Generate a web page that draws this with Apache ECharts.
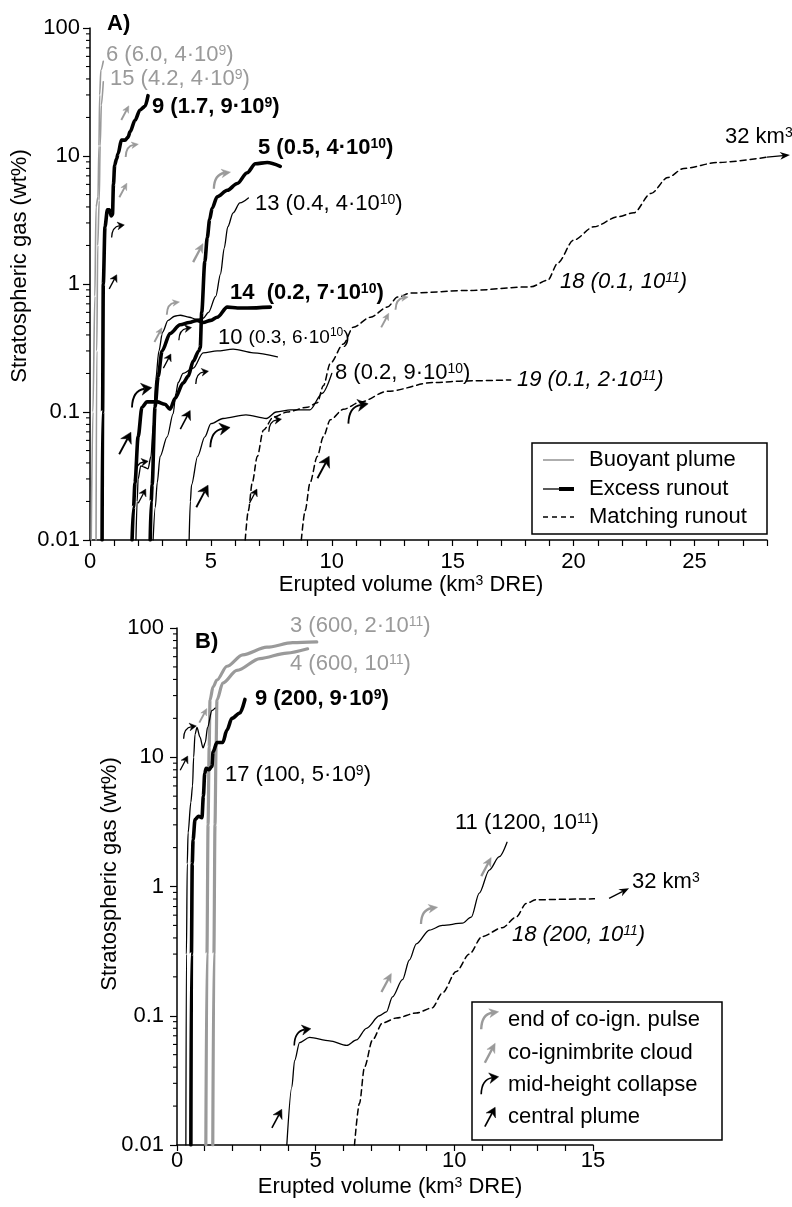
<!DOCTYPE html>
<html><head><meta charset="utf-8">
<script src="https://cdn.jsdelivr.net/npm/echarts@6/dist/echarts.min.js"></script>
<style>html,body{margin:0;padding:0;background:#fff}#c{width:792px;height:1207px}</style>
</head><body><div id="c"></div>
<script>
// ---------- tick labels ----------
const xTickLabelsA = ['0','5','10','15','20','25'];
const xTickLabelsB = ['0','5','10','15'];
const yTickLabels = ['0.01','0.1','1','10','100'];
const yMinorMult = [2,3,4,5,6,7,8,9];
const yDecades = [0.01,0.1,1,10];

// ---------- panel A curves: [erupted volume km3, stratospheric gas wt%] ----------
const c6A = [[0.05,0.01],[0.12,0.1],[0.2,0.8],[0.25,4],[0.33,4.8],[0.37,12],[0.4,30],[0.45,47],[0.55,55]];
const c15A = [[0.25,0.01],[0.28,0.3],[0.32,2],[0.38,4.5],[0.42,12],[0.47,25],[0.55,38]];
const c9A = [[0.5,0.01],[0.52,0.1],[0.55,1],[0.62,2.8],[0.72,3.8],[0.8,3.8],[0.88,3.4],[0.93,3.5],[0.97,6],[1.02,8.5],[1.1,9.5],[1.16,10.4],[1.3,13.3],[1.45,13.3],[1.57,14],[1.66,15.5],[1.86,19],[2.07,22.9],[2.28,24.5],[2.4,29.6]];
const c5A = [[1.74,0.01],[1.8,0.018],[1.86,0.028],[1.99,0.064],[2.15,0.109],[2.36,0.12],[2.78,0.12],[3.1,0.115],[3.31,0.105],[3.52,0.128],[3.85,0.168],[4.06,0.19],[4.27,0.25],[4.5,0.3],[4.56,0.32],[4.62,0.6],[4.75,1.5],[4.85,2.3],[4.95,3.2],[5.05,3.9],[5.26,4.8],[5.68,5.4],[6.09,6.1],[6.5,7.4],[6.84,8.7],[7.33,8.9],[7.87,8.3]];
const c14A = [[2.49,0.01],[2.53,0.02],[2.57,0.027],[2.69,0.109],[2.82,0.19],[2.98,0.3],[3.31,0.41],[3.73,0.48],[4.1,0.5],[4.43,0.52],[4.68,0.5],[5.0,0.52],[5.26,0.55],[5.68,0.66],[6.1,0.65],[6.5,0.65],[7.46,0.66]];
const c13A = [[1.9,0.01],[1.95,0.02],[1.99,0.03],[2.1,0.038],[2.25,0.037],[2.4,0.036],[2.52,0.045],[2.62,0.08],[2.72,0.18],[2.85,0.3],[3.0,0.42],[3.23,0.52],[3.5,0.56],[3.73,0.57],[4.1,0.55],[4.4,0.53],[4.68,0.54],[4.9,0.6],[5.2,0.8],[5.4,1.2],[5.55,1.9],[5.7,2.8],[5.92,3.6],[6.2,4.3],[6.55,4.7]];
const c10A = [[2.61,0.01],[2.7,0.018],[2.78,0.028],[2.9,0.045],[3.19,0.064],[3.44,0.097],[3.55,0.14],[3.65,0.17],[3.85,0.2],[4.27,0.22],[4.68,0.29],[5.26,0.3],[5.92,0.31],[6.75,0.29],[7.75,0.27]];
const c8A = [[4.1,0.01],[4.15,0.02],[4.2,0.027],[4.45,0.045],[4.75,0.064],[5.0,0.081],[5.5,0.089],[6.45,0.095],[7.3,0.089],[7.7,0.1],[8.3,0.104],[9.1,0.104],[9.6,0.14],[10.0,0.2]];
const c18A = [[6.42,0.01],[6.55,0.017],[6.71,0.028],[6.92,0.045],[7.17,0.072],[7.58,0.091],[8.16,0.1],[8.99,0.109],[9.4,0.118],[9.65,0.16],[9.94,0.24],[10.48,0.34],[10.89,0.46],[11.6,0.55],[12.3,0.66],[12.72,0.79],[13.26,0.85],[15.62,0.89],[18.23,0.95],[18.93,1.07],[19.35,1.46],[20.0,2.2],[20.84,2.8],[21.83,3.35],[22.49,3.6],[23.2,5.1],[23.9,6.8],[24.56,8.0],[25.97,8.9],[28.0,9.8]];
const c19A = [[8.74,0.01],[8.9,0.017],[9.1,0.028],[9.4,0.045],[9.65,0.064],[9.94,0.087],[10.48,0.105],[11.2,0.12],[12.3,0.145],[14.2,0.17],[15.6,0.175],[17.4,0.178]];
const endArrowA = [[28.0,9.8,28.95,10.2]];

// ---------- panel B curves ----------
const c3B = [[1.04,0.01],[1.08,0.3],[1.12,3],[1.16,12],[1.19,27.7],[1.3,35],[1.44,39.6],[1.8,50.6],[2.37,62],[3.24,71],[4.17,77],[5.04,78]];
const c4B = [[1.29,0.01],[1.33,0.3],[1.37,3],[1.41,12],[1.44,27.7],[1.65,37.5],[2.16,47],[2.99,58],[3.96,64],[4.71,69]];
const c9B = [[0.5,0.01],[0.52,0.3],[0.55,1.5],[0.58,2.3],[0.65,3.3],[0.78,3.5],[0.9,3.4],[0.95,5],[1.0,7.5],[1.05,8.2],[1.15,8.0],[1.26,8.5],[1.3,11],[1.44,13],[1.65,13],[1.8,16.2],[1.98,20],[2.27,22],[2.45,28]];
const c17B = [[0.32,0.01],[0.34,0.3],[0.37,1.5],[0.4,2.6],[0.5,4.5],[0.56,6],[0.6,10],[0.65,15],[0.72,17],[0.83,14.3],[0.94,11.8],[1.02,13],[1.1,17],[1.26,23],[1.37,24]];
const c11B = [[3.96,0.01],[4.14,0.028],[4.24,0.045],[4.42,0.062],[4.78,0.068],[5.5,0.064],[6.12,0.059],[6.47,0.065],[6.83,0.08],[7.3,0.1],[7.55,0.107],[7.77,0.14],[8.13,0.19],[8.38,0.27],[8.63,0.36],[9.1,0.46],[9.57,0.5],[10.29,0.52],[10.61,0.58],[10.9,0.89],[11.26,1.34],[11.62,1.7],[11.9,2.2]];
const c18B = [[6.4,0.01],[6.58,0.021],[6.76,0.04],[7.05,0.065],[7.41,0.088],[7.91,0.096],[8.63,0.105],[9.2,0.115],[9.57,0.15],[10.07,0.22],[10.54,0.3],[11.0,0.41],[11.73,0.48],[12.23,0.58],[12.59,0.74],[12.95,0.79],[14.6,0.8],[15.58,0.81]];
const endArrowB = [[15.58,0.81,16.3,0.97]];

// ---------- arrow annotations: [x, y, kind, size class] ----------
const arrowsA = [
  [1.45,21.7,'coign','s'],[1.74,11.1,'pulse','s'],[1.37,5.4,'coign','s'],[1.16,2.6,'collapse','s'],[0.95,1.04,'central','s'],
  [5.47,6.5,'pulse','m'],[4.47,1.75,'coign','m'],[3.44,0.65,'pulse','s'],[2.82,0.40,'coign','s'],[3.94,0.41,'collapse','s'],[3.19,0.25,'central','s'],
  [2.15,0.131,'collapse','l'],[1.45,0.057,'central','l'],[2.15,0.037,'collapse','s'],[2.15,0.022,'central','s'],
  [4.64,0.187,'collapse','s'],[3.94,0.087,'central','m'],[5.39,0.064,'collapse','l'],[4.64,0.022,'central','l'],
  [7.66,0.079,'collapse','s'],[6.75,0.022,'central','s'],[11.1,0.098,'collapse','l'],[9.65,0.037,'central','l'],
  [12.2,0.52,'coign','s'],[12.9,0.71,'pulse','s']
];
const arrowsB = [
  [0.47,15.7,'collapse','s'],[0.25,9.0,'central','s'],[0.94,21,'coign','s'],
  [11.15,1.42,'coign','m'],[9.1,0.60,'pulse','m'],[7.55,0.18,'coign','m'],[4.53,0.069,'collapse','m'],[3.6,0.016,'central','m']
];
const legendAItems = ['Buoyant plume','Excess runout','Matching runout'];
const legendBItems = [['pulse','end of co-ign. pulse'],['coign','co-ignimbrite cloud'],['collapse','mid-height collapse'],['central','central plume']];

// ---------- rendering ----------
const FONT = 'Liberation Sans';
const GREY = '#9a9a9a';
const SIZE = { s: 16, m: 21, l: 25 };

function arrowShapes(kind, cx, cy, L, z) {
  const grey = kind === 'coign' || kind === 'pulse';
  const col = grey ? GREY : '#000';
  const lw = grey ? Math.max(1.9, L * 0.11) : Math.max(1.3, L * 0.075);
  const h = L * 0.42, w = L * (grey ? 0.2 : 0.24);
  const out = [];
  let ex, ey, dx, dy;
  if (kind === 'central' || kind === 'coign') {
    const th = 62 * Math.PI / 180;
    dx = Math.cos(th); dy = -Math.sin(th);
    const tx = cx + dx * L / 2, ty = cy + dy * L / 2;
    ex = tx - dx * h * 0.7; ey = ty - dy * h * 0.7;
    out.push({ type: 'line', shape: { x1: cx - dx * L / 2, y1: cy - dy * L / 2, x2: ex, y2: ey }, style: { stroke: col, lineWidth: lw } });
  } else {
    const sx = cx - 0.4 * L, sy = cy + 0.42 * L;
    const qx = cx - 0.38 * L, qy = cy - 0.26 * L;
    ex = cx + 0.1 * L; ey = cy - 0.33 * L;
    const len = Math.hypot(ex - qx, ey - qy); dx = (ex - qx) / len; dy = (ey - qy) / len;
    out.push({ type: 'bezierCurve', shape: { x1: sx, y1: sy, cpx1: qx, cpy1: qy, x2: ex, y2: ey }, style: { stroke: col, lineWidth: lw, fill: 'none' } });
  }
  const tx = ex + dx * h * 0.7, ty = ey + dy * h * 0.7;
  const bx = tx - dx * h, by = ty - dy * h, nx = -dy, ny = dx;
  out.push({ type: 'polygon', shape: { points: [[tx, ty], [bx + nx * w, by + ny * w], [ex, ey], [bx - nx * w, by - ny * w]] }, style: { fill: col, stroke: col, lineWidth: 0.5 } });
  if (z != null) out.forEach(e => { e.z = z; });
  return out;
}

function arrowSeries(list, gi) {
  return {
    type: 'custom', xAxisIndex: gi, yAxisIndex: gi, z: 5, silent: true, clip: false,
    data: list.map(a => [a[0], a[1]]),
    renderItem: (params, api) => {
      const a = list[params.dataIndex];
      const p = api.coord([api.value(0), api.value(1)]);
      return { type: 'group', children: arrowShapes(a[2], p[0], p[1], SIZE[a[3]]) };
    }
  };
}
function endArrowSeries(list, gi) {
  return {
    type: 'custom', xAxisIndex: gi, yAxisIndex: gi, z: 5, silent: true, clip: false,
    data: list,
    renderItem: (params, api) => {
      const p1 = api.coord([api.value(0), api.value(1)]);
      const p2 = api.coord([api.value(2), api.value(3)]);
      const len = Math.hypot(p2[0] - p1[0], p2[1] - p1[1]);
      const dx = (p2[0] - p1[0]) / len, dy = (p2[1] - p1[1]) / len;
      const h = 10, w = 4, nx = -dy, ny = dx;
      const bx = p2[0] - dx * h, by = p2[1] - dy * h;
      const nxp = p2[0] - dx * h * 0.7, nyp = p2[1] - dy * h * 0.7;
      return { type: 'group', children: [
        { type: 'line', shape: { x1: p1[0], y1: p1[1], x2: nxp, y2: nyp }, style: { stroke: '#000', lineWidth: 1.3 } },
        { type: 'polygon', shape: { points: [[p2[0], p2[1]], [bx + nx * w, by + ny * w], [nxp, nyp], [bx - nx * w, by - ny * w]] }, style: { fill: '#000' } }
      ] };
    }
  };
}
function minorTickSeries(gi) {
  const vals = [];
  yDecades.forEach(d => yMinorMult.forEach(m => vals.push([0, m * d])));
  return {
    type: 'custom', xAxisIndex: gi, yAxisIndex: gi, z: 6, silent: true, clip: false,
    data: vals,
    renderItem: (params, api) => {
      const p = api.coord([0, api.value(1)]);
      return { type: 'line', shape: { x1: p[0] - 4, y1: p[1], x2: p[0], y2: p[1] }, style: { stroke: '#000', lineWidth: 1.1 } };
    }
  };
}

const STY = {
  greyThin: { color: GREY, width: 1.6 },
  greyThick: { color: GREY, width: 3.2 },
  thick: { color: '#000', width: 3.6 },
  thin: { color: '#000', width: 1.3 },
  dash: { color: '#000', width: 1.5, type: [6, 4] }
};
function lineS(name, data, gi, sty, clip) {
  return {
    name, type: 'line', xAxisIndex: gi, yAxisIndex: gi, data, showSymbol: false, symbol: 'none',
    smooth: 0.3, smoothMonotone: 'x', clip: clip !== false, silent: true, z: 3,
    lineStyle: Object.assign({ cap: 'round', join: 'round' }, sty)
  };
}

function xAxisCfg(gi, max, labels) {
  return {
    gridIndex: gi, type: 'value', min: 0, max, interval: 1,
    axisLine: { show: true, lineStyle: { color: '#000', width: 1.5 } },
    axisTick: { show: true, length: 6, lineStyle: { color: '#000', width: 1.2 } },
    axisLabel: { show: true, color: '#000', fontSize: 22, fontFamily: FONT, margin: gi === 0 ? 11 : 5,
      formatter: v => (Math.round(v) % 5 === 0 ? (labels[Math.round(v) / 5] || '') : '') },
    splitLine: { show: false }
  };
}
function yAxisCfg(gi) {
  return {
    gridIndex: gi, type: 'log', logBase: 10, min: 0.01, max: 100,
    axisLine: { show: true, lineStyle: { color: '#000', width: 1.5 } },
    axisTick: { show: true, length: 7, lineStyle: { color: '#000', width: 1.2 } },
    axisLabel: { show: true, color: '#000', fontSize: 22, fontFamily: FONT, margin: gi === 0 ? 10 : 13,
      formatter: v => yTickLabels[Math.round(Math.log10(v)) + 2] || '' },
    splitLine: { show: false }, minorTick: { show: false }
  };
}

function txt(x, y, text, o) {
  o = o || {};
  const size = o.size || 22, fw = o.bold ? 'bold' : 'normal', fs = o.italic ? 'italic' : 'normal', col = o.color || '#000';
  return { type: 'text', x, y, rotation: o.rot || 0, z: 100, silent: true,
    style: { text, fill: col, fontSize: size, fontFamily: FONT, fontWeight: fw, fontStyle: fs,
      align: o.align || 'left', verticalAlign: 'middle',
      rich: {
        s: { fontSize: Math.round(size * 0.64), fontFamily: FONT, fontWeight: fw, fontStyle: fs, fill: col, verticalAlign: 'top' },
        m: { fontSize: 19, fontFamily: FONT, fontWeight: fw, fontStyle: fs, fill: col },
        ms: { fontSize: 12, fontFamily: FONT, fontWeight: fw, fontStyle: fs, fill: col, verticalAlign: 'top' }
      } } };
}

const graphics = [
  // panel A labels
  txt(107, 24, 'A)', { bold: true }),
  txt(106, 55, '6 (6.0, 4·10{s|9})', { color: GREY }),
  txt(110, 79, '15 (4.2, 4·10{s|9})', { color: GREY }),
  txt(152, 107, '9 (1.7, 9·10{s|9})', { bold: true }),
  txt(258, 148, '5 (0.5, 4·10{s|10})', { bold: true }),
  txt(255, 204, '13 (0.4, 4·10{s|10})'),
  txt(230, 293, '14  (0.2, 7·10{s|10})', { bold: true }),
  txt(218, 338, '10 {m|(0.3, 6·10}{ms|10}{m|)}'),
  txt(335, 373, '8 (0.2, 9·10{s|10})'),
  txt(560, 282, '18 (0.1, 10{s|11})', { italic: true }),
  txt(517, 380, '19 (0.1, 2·10{s|11})', { italic: true }),
  txt(725, 137, '32 km{s|3}'),
  txt(20, 266, 'Stratospheric gas (wt%)', { rot: Math.PI / 2, align: 'center' }),
  txt(411, 585, 'Erupted volume (km{s|3} DRE)', { align: 'center' }),
  // panel B labels
  txt(195, 642, 'B)', { bold: true }),
  txt(290, 626, '3 (600, 2·10{s|11})', { color: GREY }),
  txt(290, 664, '4 (600, 10{s|11})', { color: GREY }),
  txt(255, 699, '9 (200, 9·10{s|9})', { bold: true }),
  txt(225, 775, '17 (100, 5·10{s|9})'),
  txt(455, 823, '11 (1200, 10{s|11})'),
  txt(632, 882, '32 km{s|3}'),
  txt(512, 935, '18 (200, 10{s|11})', { italic: true }),
  txt(110, 874, 'Stratospheric gas (wt%)', { rot: Math.PI / 2, align: 'center' }),
  txt(390, 1187, 'Erupted volume (km{s|3} DRE)', { align: 'center' }),
  // legend A
  { type: 'rect', z: 90, shape: { x: 532, y: 443, width: 235, height: 91 }, style: { fill: '#fff', stroke: '#000', lineWidth: 1.5 } },
  { type: 'line', z: 95, shape: { x1: 543, y1: 460, x2: 574, y2: 460 }, style: { stroke: GREY, lineWidth: 1.6 } },
  { type: 'line', z: 95, shape: { x1: 543, y1: 489, x2: 560, y2: 489 }, style: { stroke: '#000', lineWidth: 1.3 } },
  { type: 'line', z: 95, shape: { x1: 559, y1: 489, x2: 574, y2: 489 }, style: { stroke: '#000', lineWidth: 4 } },
  { type: 'line', z: 95, shape: { x1: 543, y1: 517, x2: 574, y2: 517 }, style: { stroke: '#000', lineWidth: 1.5, lineDash: [5, 4] } },
  txt(589, 460, legendAItems[0]), txt(589, 489, legendAItems[1]), txt(589, 517, legendAItems[2]),
  // legend B
  { type: 'rect', z: 90, shape: { x: 472, y: 1002, width: 250, height: 138 }, style: { fill: '#fff', stroke: '#000', lineWidth: 1.5 } }
];
const legBY = [1020, 1053, 1085, 1117];
legendBItems.forEach((it, i) => {
  arrowShapes(it[0], 490, legBY[i], 22, 96).forEach(e => graphics.push(e));
  graphics.push(txt(508, legBY[i], it[1]));
});

const option = {
  animation: false,
  textStyle: { fontFamily: FONT },
  grid: [
    { left: 90, top: 28, width: 677, height: 512, outerBoundsMode: 'none', containLabel: false },
    { left: 177, top: 628, width: 416, height: 517, outerBoundsMode: 'none', containLabel: false }
  ],
  xAxis: [xAxisCfg(0, 28, xTickLabelsA), xAxisCfg(1, 15, xTickLabelsB)],
  yAxis: [yAxisCfg(0), yAxisCfg(1)],
  series: [
    lineS('6', c6A, 0, STY.greyThin), lineS('15', c15A, 0, STY.greyThin),
    lineS('9', c9A, 0, STY.thick), lineS('5', c5A, 0, STY.thick), lineS('14', c14A, 0, STY.thick),
    lineS('13', c13A, 0, STY.thin), lineS('10', c10A, 0, STY.thin), lineS('8', c8A, 0, STY.thin),
    lineS('18', c18A, 0, STY.dash, false), lineS('19', c19A, 0, STY.dash),
    lineS('3', c3B, 1, STY.greyThick), lineS('4', c4B, 1, STY.greyThick),
    lineS('9B', c9B, 1, STY.thick), lineS('17', c17B, 1, STY.thin),
    lineS('11', c11B, 1, STY.thin), lineS('18B', c18B, 1, STY.dash, false),
    arrowSeries(arrowsA, 0), arrowSeries(arrowsB, 1),
    endArrowSeries(endArrowA, 0), endArrowSeries(endArrowB, 1),
    minorTickSeries(0), minorTickSeries(1)
  ],
  graphic: graphics
};
const chart = echarts.init(document.getElementById('c'), null, { renderer: 'canvas' });
chart.setOption(option);
</script>
</body></html>
